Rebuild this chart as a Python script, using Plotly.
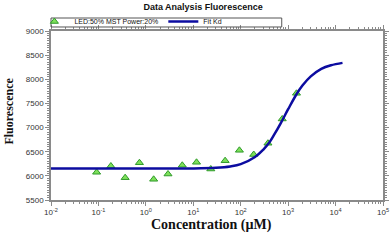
import plotly.graph_objects as go

# Measured data (concentration in µM, fluorescence)
conc = [0.0916, 0.183, 0.366, 0.732, 1.46, 2.93, 5.86, 11.7, 23.4, 46.9,
        93.8, 188, 375, 750, 1500]
fluor = [6074, 6204, 5962, 6272, 5929, 6038, 6219, 6281, 6142, 6314,
         6529, 6442, 6676, 7178, 7710]

# Fit curve
fit_conc = [0.01, 0.1, 1, 10, 30, 60, 100, 200, 300, 400, 500, 700, 1000,
            1500, 2000, 3000, 5000, 8000, 14000]
fit_val = [6150, 6150, 6150, 6153, 6167, 6195, 6242, 6390, 6545, 6690, 6842,
           7094, 7380, 7690, 7870, 8060, 8215, 8290, 8340]

x_tickvals = [0.01, 0.1, 1, 10, 100, 1000, 10000, 100000]
x_ticktext = ["10<sup>-2</sup>", "10<sup>-1</sup>", "10<sup>0</sup>", "10<sup>1</sup>",
              "10<sup>2</sup>", "10<sup>3</sup>", "10<sup>4</sup>", "10<sup>5</sup>"]
y_tickvals = [5500, 6000, 6500, 7000, 7500, 8000, 8500, 9000]

fig = go.Figure()
fig.add_trace(go.Scatter(
    x=conc, y=fluor, mode="markers", name="LED:50% MST Power:20%",
    marker=dict(symbol="triangle-up", size=7, color="#7ee05a",
                line=dict(color="#2f9a2a", width=1)),
))
fig.add_trace(go.Scatter(
    x=fit_conc, y=fit_val, mode="lines", name="Fit Kd",
    line=dict(color="#0c0ca0", width=2.5, shape="spline"),
))

axis_common = dict(
    showline=True, linecolor="#8a8a8a", linewidth=1.5, mirror="ticks",
    ticks="outside", ticklen=4, tickcolor="#8a8a8a", tickwidth=1,
    showgrid=False, zeroline=False,
    tickfont=dict(family="Liberation Sans, Arial", size=8, color="#333333"),
)

fig.update_xaxes(
    type="log", range=[-2, 5], tickvals=x_tickvals, ticktext=x_ticktext,
    minor=dict(ticks="outside", ticklen=2, tickcolor="#8a8a8a", dtick="D1"),
    **axis_common,
)
fig.update_yaxes(
    range=[5500, 9000], tickvals=y_tickvals,
    minor=dict(ticks="outside", ticklen=2, tickcolor="#8a8a8a", dtick=50),
    **axis_common,
)

fig.update_layout(
    width=392, height=242,
    margin=dict(l=50.5, r=8.5, t=31, b=42, autoexpand=False),
    paper_bgcolor="white", plot_bgcolor="white",
    title=dict(text="<b>Data Analysis Fluorescence</b>", x=0.518, xanchor="center",
               y=1 - 7 / 242, yanchor="middle",
               font=dict(family="Liberation Sans, Arial", size=9, color="#111111")),
    showlegend=True,
    legend=dict(orientation="h", x=-0.05, xanchor="left", y=1.142, yanchor="top",
                bgcolor="rgba(0,0,0,0)", borderwidth=0,
                font=dict(family="Liberation Sans, Arial", size=7, color="#111111"),
                itemwidth=30, tracegroupgap=0),
    shapes=[dict(type="rect", xref="paper", yref="paper",
                 x0=0.0, x1=0.695, y0=1.0237, y1=1.0769,
                 line=dict(color="#555555", width=1), fillcolor="rgba(0,0,0,0)")],
    annotations=[
        dict(text="<b>Fluorescence</b>", xref="paper", yref="paper",
             x=-0.126, y=0.524, textangle=-90, showarrow=False,
             xanchor="center", yanchor="middle",
             font=dict(family="Liberation Serif, Times New Roman", size=12, color="#111111")),
        dict(text="<b>Concentration (µM)</b>", xref="paper", yref="paper",
             x=0.482, y=-0.148, showarrow=False, xanchor="center", yanchor="middle",
             font=dict(family="Liberation Serif, Times New Roman", size=14, color="#111111")),
    ],
)

fig.write_html("out.html",
               config={"displayModeBar": False},
               post_script="document.body.style.margin='0';document.body.style.padding='0';")
